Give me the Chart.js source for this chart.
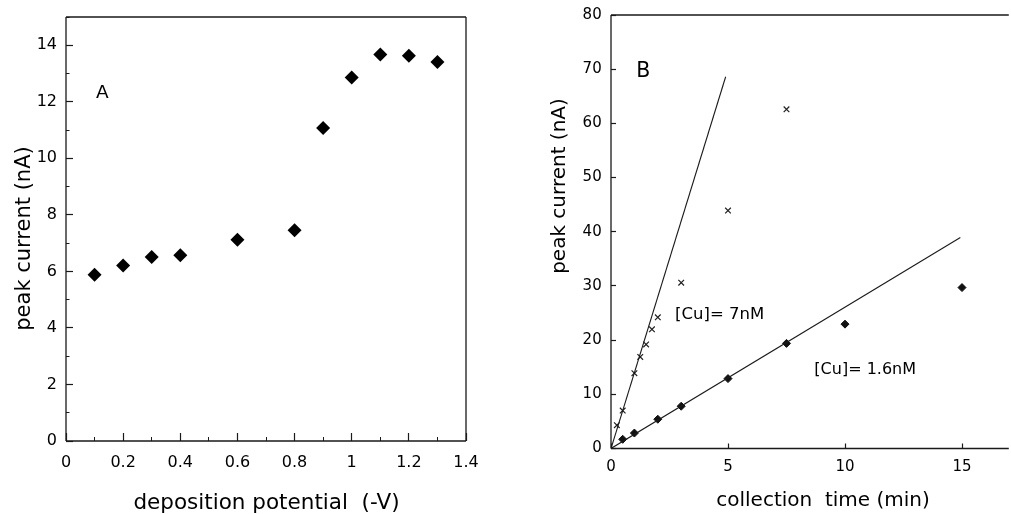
<!DOCTYPE html>
<html>
<head>
<meta charset="utf-8">
<script src="https://cdn.jsdelivr.net/npm/chart.js@4.4.1/dist/chart.umd.min.js"></script>
<style>
  html, body { margin: 0; padding: 0; background: #fff; overflow: hidden; }
  #wrap { position: relative; width: 1011px; height: 514px; overflow: hidden; }
  #chartA { position: absolute; left: 0; top: 0; }
  #chartB { position: absolute; left: 500px; top: 0; }
</style>
</head>
<body>
<div id="wrap">
  <canvas id="chartA" width="480" height="514"></canvas>
  <canvas id="chartB" width="514" height="514"></canvas>
</div>
<script>
// panel A : peak current vs deposition potential
var potential = [0.1, 0.2, 0.3, 0.4, 0.6, 0.8, 0.9, 1.0, 1.1, 1.2, 1.3];
var currentA  = [5.88, 6.21, 6.51, 6.57, 7.12, 7.46, 11.07, 12.86, 13.67, 13.63, 13.41];

// panel B : peak current vs collection time
var time16    = [0.5, 1, 2, 3, 5, 7.5, 10, 15];
var current16 = [1.7, 2.85, 5.4, 7.8, 12.9, 19.4, 22.95, 29.7];
var time7     = [0.25, 0.5, 1, 1.25, 1.5, 1.75, 2, 3, 5, 7.5];
var current7  = [4.3, 7.0, 13.9, 16.9, 19.2, 22.0, 24.2, 30.6, 43.9, 62.6];

// fitted lines, end points as drawn
var fit7x  = [0, 4.9];
var fit7y  = [0, 68.6];
var fit16x = [0, 14.93];
var fit16y = [0, 38.95];

// axis tick settings
var ticksAx = [0, 1.4, 0.2];   // min, max, step
var ticksAy = [0, 15, 2];
var ticksBx = [0, 17, 5];
var ticksBy = [0, 80, 10];

// labels inside the plots (data coords)
var notesA  = ['A'];
var notesAx = [0.105];
var notesAy = [12.12];
var notesB  = ['B', '[Cu]= 7nM', '[Cu]= 1.6nM'];
var notesBx = [1.08, 2.74, 8.69];
var notesBy = [68.6, 24.6, 14.5];

var FONT = '"DejaVu Sans", sans-serif';
Chart.defaults.font.family = FONT;
Chart.defaults.color = '#000';

function pts(xs, ys) {
  return xs.map(function(x, i) { return { x: x, y: ys[i] }; });
}

// borders, axis titles and in-plot labels
var decor = {
  id: 'decor',
  afterDraw: function(chart, args, opts) {
    var ctx = chart.ctx, a = chart.chartArea;
    ctx.save();
    ctx.strokeStyle = '#1a1a1a';
    ctx.lineWidth = 1.3;
    ctx.beginPath();
    if (opts.sides.indexOf('top') > -1)    { ctx.moveTo(a.left, a.top);    ctx.lineTo(a.right, a.top); }
    if (opts.sides.indexOf('bottom') > -1) { ctx.moveTo(a.left, a.bottom); ctx.lineTo(a.right, a.bottom); }
    if (opts.sides.indexOf('left') > -1)   { ctx.moveTo(a.left, a.top);    ctx.lineTo(a.left, a.bottom); }
    if (opts.sides.indexOf('right') > -1)  { ctx.moveTo(a.right, a.top);   ctx.lineTo(a.right, a.bottom); }
    ctx.stroke();

    ctx.fillStyle = '#000';
    var xs = chart.scales.x, ys = chart.scales.y;
    opts.notes.forEach(function(n) {
      ctx.font = n.size + 'px ' + FONT;
      ctx.textAlign = 'left';
      ctx.textBaseline = n.base || 'alphabetic';
      ctx.fillText(n.text, xs.getPixelForValue(n.x), ys.getPixelForValue(n.y));
    });
    opts.titles.forEach(function(t) {
      ctx.save();
      ctx.translate(t.x, t.y);
      if (t.rot) ctx.rotate(t.rot);
      ctx.font = t.size + 'px ' + FONT;
      ctx.textAlign = 'center';
      ctx.textBaseline = 'alphabetic';
      ctx.fillText(t.text, 0, 0);
      ctx.restore();
    });
    ctx.restore();
  }
};

function fixBox(pos, size) {
  return function(s) {
    if (pos === 'left') s.width = size; else s.height = size;
    s.paddingLeft = 0; s.paddingRight = 0; s.paddingTop = 0; s.paddingBottom = 0;
  };
}

function mainAxis(pos, t, size, tickLen, pad, fontSize) {
  return {
    type: 'linear', position: pos, min: t[0], max: t[1], weight: 1,
    afterFit: fixBox(pos, size),
    ticks: {
      stepSize: t[2], padding: pad, font: { size: fontSize }, color: '#000',
      callback: function(v) {
        var k = Math.round(v / t[2] * 1000) / 1000;
        if (k !== Math.round(k)) return null;
        return String(Math.round(v * 10) / 10);
      }
    },
    grid: { drawOnChartArea: false, tickLength: -tickLen, tickColor: '#1a1a1a', tickWidth: 1.2 },
    border: { display: false }
  };
}

function minorAxis(pos, t, step, tickLen) {
  return {
    type: 'linear', position: pos, min: t[0], max: t[1], weight: 0,
    afterFit: fixBox(pos, 0),
    ticks: { stepSize: step, display: false },
    grid: { drawOnChartArea: false, tickLength: -tickLen, tickColor: '#1a1a1a', tickWidth: 1 },
    border: { display: false }
  };
}

function makeNotes(txt, xs, ys, sizes, bases) {
  return txt.map(function(s, i) {
    return { text: s, x: xs[i], y: ys[i], size: sizes[i], base: bases[i] };
  });
}

new Chart(document.getElementById('chartA'), {
  type: 'scatter',
  data: {
    datasets: [{
      data: pts(potential, currentA),
      pointStyle: 'rectRot',
      pointRadius: 7,
      pointHoverRadius: 7,
      backgroundColor: '#000',
      borderWidth: 0
    }]
  },
  options: {
    responsive: false,
    animation: false,
    devicePixelRatio: 1,
    layout: { padding: { left: 0, top: 17, right: 14, bottom: 0 } },
    scales: {
      x: mainAxis('bottom', ticksAx, 73, 8, 20, 16),
      xMinor: minorAxis('bottom', ticksAx, 0.1, 4),
      y: mainAxis('left', ticksAy, 66, 7, 16, 16),
      yMinor: minorAxis('left', ticksAy, 1, 3.5)
    },
    plugins: {
      legend: { display: false },
      tooltip: { enabled: false },
      decor: {
        sides: ['top', 'bottom', 'left', 'right'],
        notes: makeNotes(notesA, notesAx, notesAy, [18.5], ['alphabetic']),
        titles: [
          { text: 'deposition potential  (-V)', x: 266.5, y: 509, size: 21.5 },
          { text: 'peak current (nA)', x: 30, y: 238.5, size: 21, rot: -Math.PI / 2 }
        ]
      }
    }
  },
  plugins: [decor]
});

new Chart(document.getElementById('chartB'), {
  type: 'scatter',
  data: {
    datasets: [
      {
        label: '[Cu]= 7nM fit',
        data: pts(fit7x, fit7y),
        showLine: true, pointRadius: 0, borderColor: '#1a1a1a', borderWidth: 1.1
      },
      {
        label: '[Cu]= 1.6nM fit',
        data: pts(fit16x, fit16y),
        showLine: true, pointRadius: 0, borderColor: '#1a1a1a', borderWidth: 1.1
      },
      {
        label: '[Cu]= 7nM',
        data: pts(time7, current7),
        pointStyle: 'crossRot', pointRadius: 4, pointHoverRadius: 4,
        borderColor: '#222', borderWidth: 1.2
      },
      {
        label: '[Cu]= 1.6nM',
        data: pts(time16, current16),
        pointStyle: 'rectRot', pointRadius: 4, pointHoverRadius: 4,
        backgroundColor: '#111', borderColor: '#111', borderWidth: 1
      }
    ]
  },
  options: {
    responsive: false,
    animation: false,
    devicePixelRatio: 1,
    layout: { padding: { left: 0, top: 15, right: 0, bottom: 0 } },
    scales: {
      x: mainAxis('bottom', ticksBx, 65.5, 5, 14.5, 15),
      y: mainAxis('left', ticksBy, 111, 5, 14.3, 15)
    },
    plugins: {
      legend: { display: false },
      tooltip: { enabled: false },
      decor: {
        sides: ['top', 'bottom', 'left'],
        notes: makeNotes(notesB, notesBx, notesBy, [20.5, 16.5, 16], ['alphabetic', 'middle', 'middle']),
        titles: [
          { text: 'collection  time (min)', x: 323, y: 506, size: 20 },
          { text: 'peak current (nA)', x: 65, y: 186, size: 20, rot: -Math.PI / 2 }
        ]
      }
    }
  },
  plugins: [decor]
});
</script>
</body>
</html>
